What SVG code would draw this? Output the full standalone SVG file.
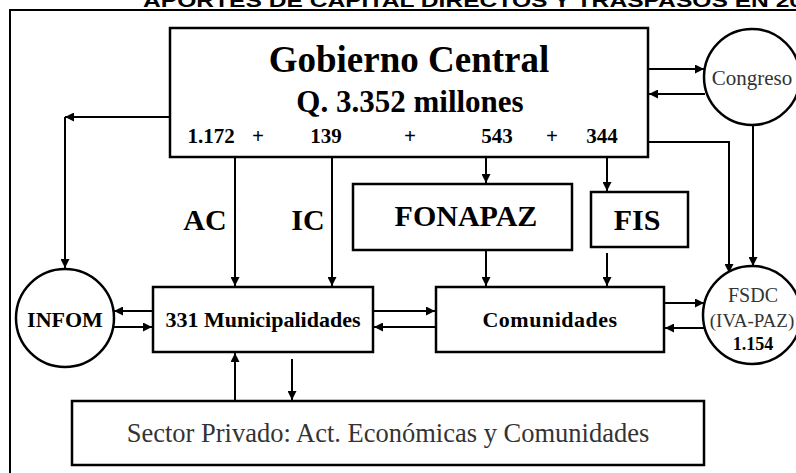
<svg xmlns="http://www.w3.org/2000/svg" width="796" height="473" viewBox="0 0 796 473">
<style>
  .box { fill: #fff; stroke: #000; stroke-width: 2.5; }
  .ln { fill: none; stroke: #000; stroke-width: 2; }
  .b { font-family: "Liberation Serif", "Times New Roman", serif; font-weight: bold; fill: #000; text-anchor: middle; }
  .r { font-family: "Liberation Serif", "Times New Roman", serif; fill: #333; text-anchor: middle; }
  .t { font-family: "Liberation Sans", Arial, sans-serif; font-weight: bold; font-size: 18px; fill: #000; }
</style>
<defs>
  <marker id="ah" viewBox="0 0 10 10" refX="10" refY="5" markerWidth="4.5" markerHeight="4.5" orient="auto" markerUnits="strokeWidth">
    <path d="M0,0 L10,5 L0,10 z" fill="#000"/>
  </marker>
</defs>
<rect x="0" y="0" width="796" height="473" fill="#fff"/>
<text class="t" x="143" y="7" textLength="660" lengthAdjust="spacingAndGlyphs">APORTES DE CAPITAL DIRECTOS Y TRASPASOS EN 20</text>
<rect x="10" y="10" width="800" height="480" fill="none" stroke="#000" stroke-width="2"/>

<g id="connectors">
  <line class="ln" x1="170" y1="117" x2="65" y2="117" marker-end="url(#ah)"/>
  <line class="ln" x1="65" y1="117" x2="65" y2="268" marker-end="url(#ah)"/>
  <line class="ln" x1="235" y1="157" x2="235" y2="286" marker-end="url(#ah)"/>
  <line class="ln" x1="332" y1="157" x2="332" y2="286" marker-end="url(#ah)"/>
  <line class="ln" x1="486" y1="157" x2="486" y2="183" marker-end="url(#ah)"/>
  <line class="ln" x1="607" y1="157" x2="607" y2="191" marker-end="url(#ah)"/>
  <line class="ln" x1="486" y1="250" x2="486" y2="286" marker-end="url(#ah)"/>
  <line class="ln" x1="607" y1="253" x2="607" y2="286" marker-end="url(#ah)"/>
  <line class="ln" x1="648" y1="69" x2="704" y2="69" marker-end="url(#ah)"/>
  <line class="ln" x1="705" y1="94" x2="649" y2="94" marker-end="url(#ah)"/>
  <polyline class="ln" points="648,142 729,142 729,273" marker-end="url(#ah)"/>
  <line class="ln" x1="753" y1="126" x2="753" y2="266" marker-end="url(#ah)"/>
  <line class="ln" x1="153" y1="311" x2="114" y2="311" marker-end="url(#ah)"/>
  <line class="ln" x1="113" y1="327" x2="152" y2="327" marker-end="url(#ah)"/>
  <line class="ln" x1="373" y1="311" x2="435" y2="311" marker-end="url(#ah)"/>
  <line class="ln" x1="436" y1="327" x2="374" y2="327" marker-end="url(#ah)"/>
  <line class="ln" x1="664" y1="303" x2="704" y2="303" marker-end="url(#ah)"/>
  <line class="ln" x1="704" y1="328" x2="665" y2="328" marker-end="url(#ah)"/>
  <line class="ln" x1="235" y1="401" x2="235" y2="353" marker-end="url(#ah)"/>
  <line class="ln" x1="292" y1="359" x2="292" y2="400" marker-end="url(#ah)"/>
</g>

<g id="gobierno">
  <rect class="box" x="170" y="28" width="478" height="129"/>
  <text class="b" x="409" y="72" font-size="37">Gobierno Central</text>
  <text class="b" x="410" y="112" font-size="31">Q. 3.352 millones</text>
  <text class="b" x="211" y="143" font-size="21">1.172</text>
  <text class="b" x="258" y="143" font-size="21">+</text>
  <text class="b" x="326" y="143" font-size="21">139</text>
  <text class="b" x="410" y="143" font-size="21">+</text>
  <text class="b" x="497" y="143" font-size="21">543</text>
  <text class="b" x="552" y="143" font-size="21">+</text>
  <text class="b" x="602" y="143" font-size="21">344</text>
</g>

<g id="congreso">
  <circle class="box" cx="752" cy="77" r="48"/>
  <text class="r" x="752" y="85" font-size="21">Congreso</text>
</g>

<g id="label-ac"><text class="b" x="205" y="230" font-size="30">AC</text></g>
<g id="label-ic"><text class="b" x="308" y="230" font-size="30">IC</text></g>

<g id="fonapaz">
  <rect class="box" x="353" y="184" width="219" height="66"/>
  <text class="b" x="466" y="226" font-size="30">FONAPAZ</text>
</g>

<g id="fis">
  <rect class="box" x="591" y="192" width="97" height="55"/>
  <text class="b" x="637" y="230" font-size="30">FIS</text>
</g>

<g id="infom">
  <circle class="box" cx="65" cy="318" r="49"/>
  <text class="b" x="65" y="327" font-size="22">INFOM</text>
</g>

<g id="municipalidades">
  <rect class="box" x="153" y="287" width="220" height="65"/>
  <text class="b" x="263" y="327" font-size="22">331 Municipalidades</text>
</g>

<g id="comunidades">
  <rect class="box" x="436" y="287" width="228" height="65"/>
  <text class="b" x="550" y="327" font-size="22" letter-spacing="0.5">Comunidades</text>
</g>

<g id="fsdc">
  <circle class="box" cx="752" cy="315" r="49"/>
  <text class="r" x="753" y="302" font-size="20">FSDC</text>
  <text class="r" x="752" y="327" font-size="19">(IVA-PAZ)</text>
  <text class="b" x="753" y="350" font-size="18">1.154</text>
</g>

<g id="sector-privado">
  <rect class="box" x="72" y="401" width="632" height="64"/>
  <text class="r" x="388" y="442" font-size="26.5">Sector Privado: Act. Económicas y Comunidades</text>
</g>
</svg>
